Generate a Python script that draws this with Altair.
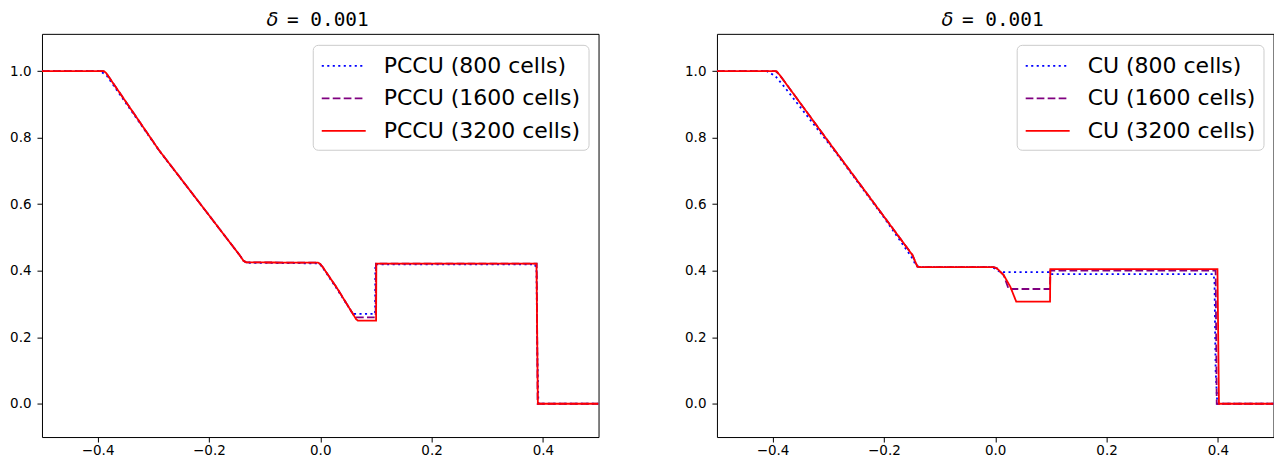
import altair as alt
import pandas as pd

# ---------------- data ----------------
series_left = ["PCCU (800 cells)", "PCCU (1600 cells)", "PCCU (3200 cells)"]
series_right = ["CU (800 cells)", "CU (1600 cells)", "CU (3200 cells)"]
line_colors = ["#0000ff", "#800080", "#ff0000"]
line_dashes = [[2.1, 3.4], [7.7, 3.3], [1, 0]]

title_symbol = ["δ"]
title_value = ["= 0.001"]

x_ticks = [-0.4, -0.2, 0.0, 0.2, 0.4]
y_ticks = [0.0, 0.2, 0.4, 0.6, 0.8, 1.0]

# Left panel (PCCU)
pccu800_x = [-0.5, -0.395, -0.383, -0.29, -0.2, -0.145, -0.138, -0.132, -0.005, 0.0, 0.004,
             0.03, 0.0588, 0.0985, 0.0990, 0.386, 0.3885, 0.390, 0.392, 0.5]
pccu800_y = [1.0, 1.0, 0.985, 0.762, 0.567, 0.447, 0.43, 0.424, 0.422, 0.418, 0.41,
             0.345, 0.270, 0.270, 0.419, 0.419, 0.40, 0.15, 0.0, 0.0]
pccu1600_x = [-0.5, -0.39, -0.385, -0.29, -0.2, -0.145, -0.138, -0.133, -0.004, 0.0, 0.004,
              0.03, 0.0625, 0.0995, 0.1000, 0.389, 0.3905, 0.5]
pccu1600_y = [1.0, 1.0, 0.995, 0.763, 0.567, 0.447, 0.43, 0.425, 0.424, 0.42, 0.412,
              0.348, 0.260, 0.260, 0.421, 0.421, 0.0, 0.0]
pccu3200_x = [-0.5, -0.389, -0.385, -0.29, -0.2, -0.145, -0.138, -0.133, -0.004, 0.0, 0.004,
              0.03, 0.0646, 0.0676, 0.1003, 0.1008, 0.3885, 0.391, 0.5]
pccu3200_y = [1.0, 1.0, 0.995, 0.763, 0.567, 0.447, 0.43, 0.425, 0.424, 0.42, 0.412,
              0.348, 0.254, 0.250, 0.250, 0.421, 0.421, 0.0, 0.0]

# Right panel (CU)
cu800_x = [-0.5, -0.41, -0.395, -0.38, -0.2886, -0.2, -0.15, -0.142, -0.135, -0.005, 0.009,
           0.0985, 0.100, 0.392, 0.394, 0.396, 0.399, 0.5]
cu800_y = [1.0, 1.0, 0.985, 0.955, 0.760, 0.560, 0.44, 0.415, 0.411, 0.411, 0.396,
           0.396, 0.390, 0.390, 0.37, 0.10, 0.0, 0.0]
cu1600_x = [-0.5, -0.395, -0.388, -0.2886, -0.2, -0.1487, -0.1398, -0.135, -0.0028, 0.0031,
            0.0151, 0.0241, 0.0985, 0.0990, 0.396, 0.398, 0.5]
cu1600_y = [1.0, 1.0, 0.99, 0.763, 0.563, 0.447, 0.412, 0.411, 0.411, 0.407,
            0.387, 0.345, 0.345, 0.400, 0.400, 0.0, 0.0]
cu3200_x = [-0.5, -0.393, -0.388, -0.2886, -0.2, -0.1487, -0.1398, -0.135, -0.0028, 0.0031,
            0.0151, 0.0271, 0.033, 0.0378, 0.0985, 0.0990, 0.3993, 0.402, 0.5]
cu3200_y = [1.0, 1.0, 0.99, 0.763, 0.563, 0.447, 0.412, 0.411, 0.411, 0.407,
            0.387, 0.352, 0.327, 0.307, 0.307, 0.405, 0.405, 0.0, 0.0]


def make_df(xs_list, ys_list, labels):
    rows = []
    for xs, ys, lab in zip(xs_list, ys_list, labels):
        for i, (xv, yv) in enumerate(zip(xs, ys)):
            rows.append({"x": xv, "y": yv, "series": lab, "i": i})
    return pd.DataFrame(rows)


left_df = make_df([pccu800_x, pccu1600_x, pccu3200_x],
                  [pccu800_y, pccu1600_y, pccu3200_y], series_left)
right_df = make_df([cu800_x, cu1600_x, cu3200_x],
                   [cu800_y, cu1600_y, cu3200_y], series_right)

PLOT_W = 557
PLOT_H = 403.5


def legend_def():
    return alt.Legend(
        orient="top-right", title=None, offset=10.5,
        fillColor="rgba(255,255,255,0.8)", strokeColor="#cccccc", cornerRadius=5,
        padding=8, labelFont="DejaVu Sans", labelFontSize=22, labelColor="black",
        labelLimit=400, labelOffset=37, symbolType="M-1,0L2.667,0", symbolSize=576,
        symbolStrokeWidth=1.8, rowPadding=8.5,
    )


def panel(df, labels):
    color = alt.Color("series:N", scale=alt.Scale(domain=labels, range=line_colors),
                      legend=legend_def())
    dash = alt.StrokeDash("series:N", scale=alt.Scale(domain=labels, range=line_dashes),
                          legend=legend_def())
    xenc = alt.X("x:Q", scale=alt.Scale(domain=[-0.5, 0.5], nice=False, zero=False),
                 axis=alt.Axis(values=x_ticks, format=".1f", title=None, labelPadding=1.5))
    yenc = alt.Y("y:Q", scale=alt.Scale(domain=[-0.1, 1.112], nice=False, zero=False),
                 axis=alt.Axis(values=y_ticks, format=".1f", title=None, labelPadding=6))
    layers = []
    for lab in labels:
        layers.append(
            alt.Chart(df).transform_filter(alt.datum.series == lab)
            .mark_line(clip=True, strokeWidth=1.8)
            .encode(x=xenc, y=yenc, color=color, strokeDash=dash, order="i:Q")
        )
    t1 = alt.Chart(pd.DataFrame({"t": title_symbol})).mark_text(
        font="DejaVu Sans", fontStyle="italic", fontSize=19.4, align="center",
        baseline="alphabetic", color="black"
    ).encode(x=alt.value(230.7), y=alt.value(-8.2), text="t:N")
    t2 = alt.Chart(pd.DataFrame({"t": title_value})).mark_text(
        font="DejaVu Sans Mono", fontSize=19.4, align="left",
        baseline="alphabetic", color="black"
    ).encode(x=alt.value(245.2), y=alt.value(-8.2), text="t:N")
    return alt.layer(*layers, t1, t2).properties(width=PLOT_W, height=PLOT_H)


chart = (
    alt.hconcat(panel(left_df, series_left), panel(right_df, series_right), spacing=84.5)
    .resolve_scale(color="independent", strokeDash="independent")
    .properties(padding={"left": 1, "top": 0.7, "right": 0, "bottom": 0})
    .configure_view(stroke="black", strokeWidth=1)
    .configure_axis(domain=False, grid=False, tickColor="black", tickSize=5, tickWidth=1,
                    labelFont="DejaVu Sans", labelFontSize=13.5, labelColor="black")
)

chart.save("out.html", embed_options={"renderer": "svg", "actions": False})
